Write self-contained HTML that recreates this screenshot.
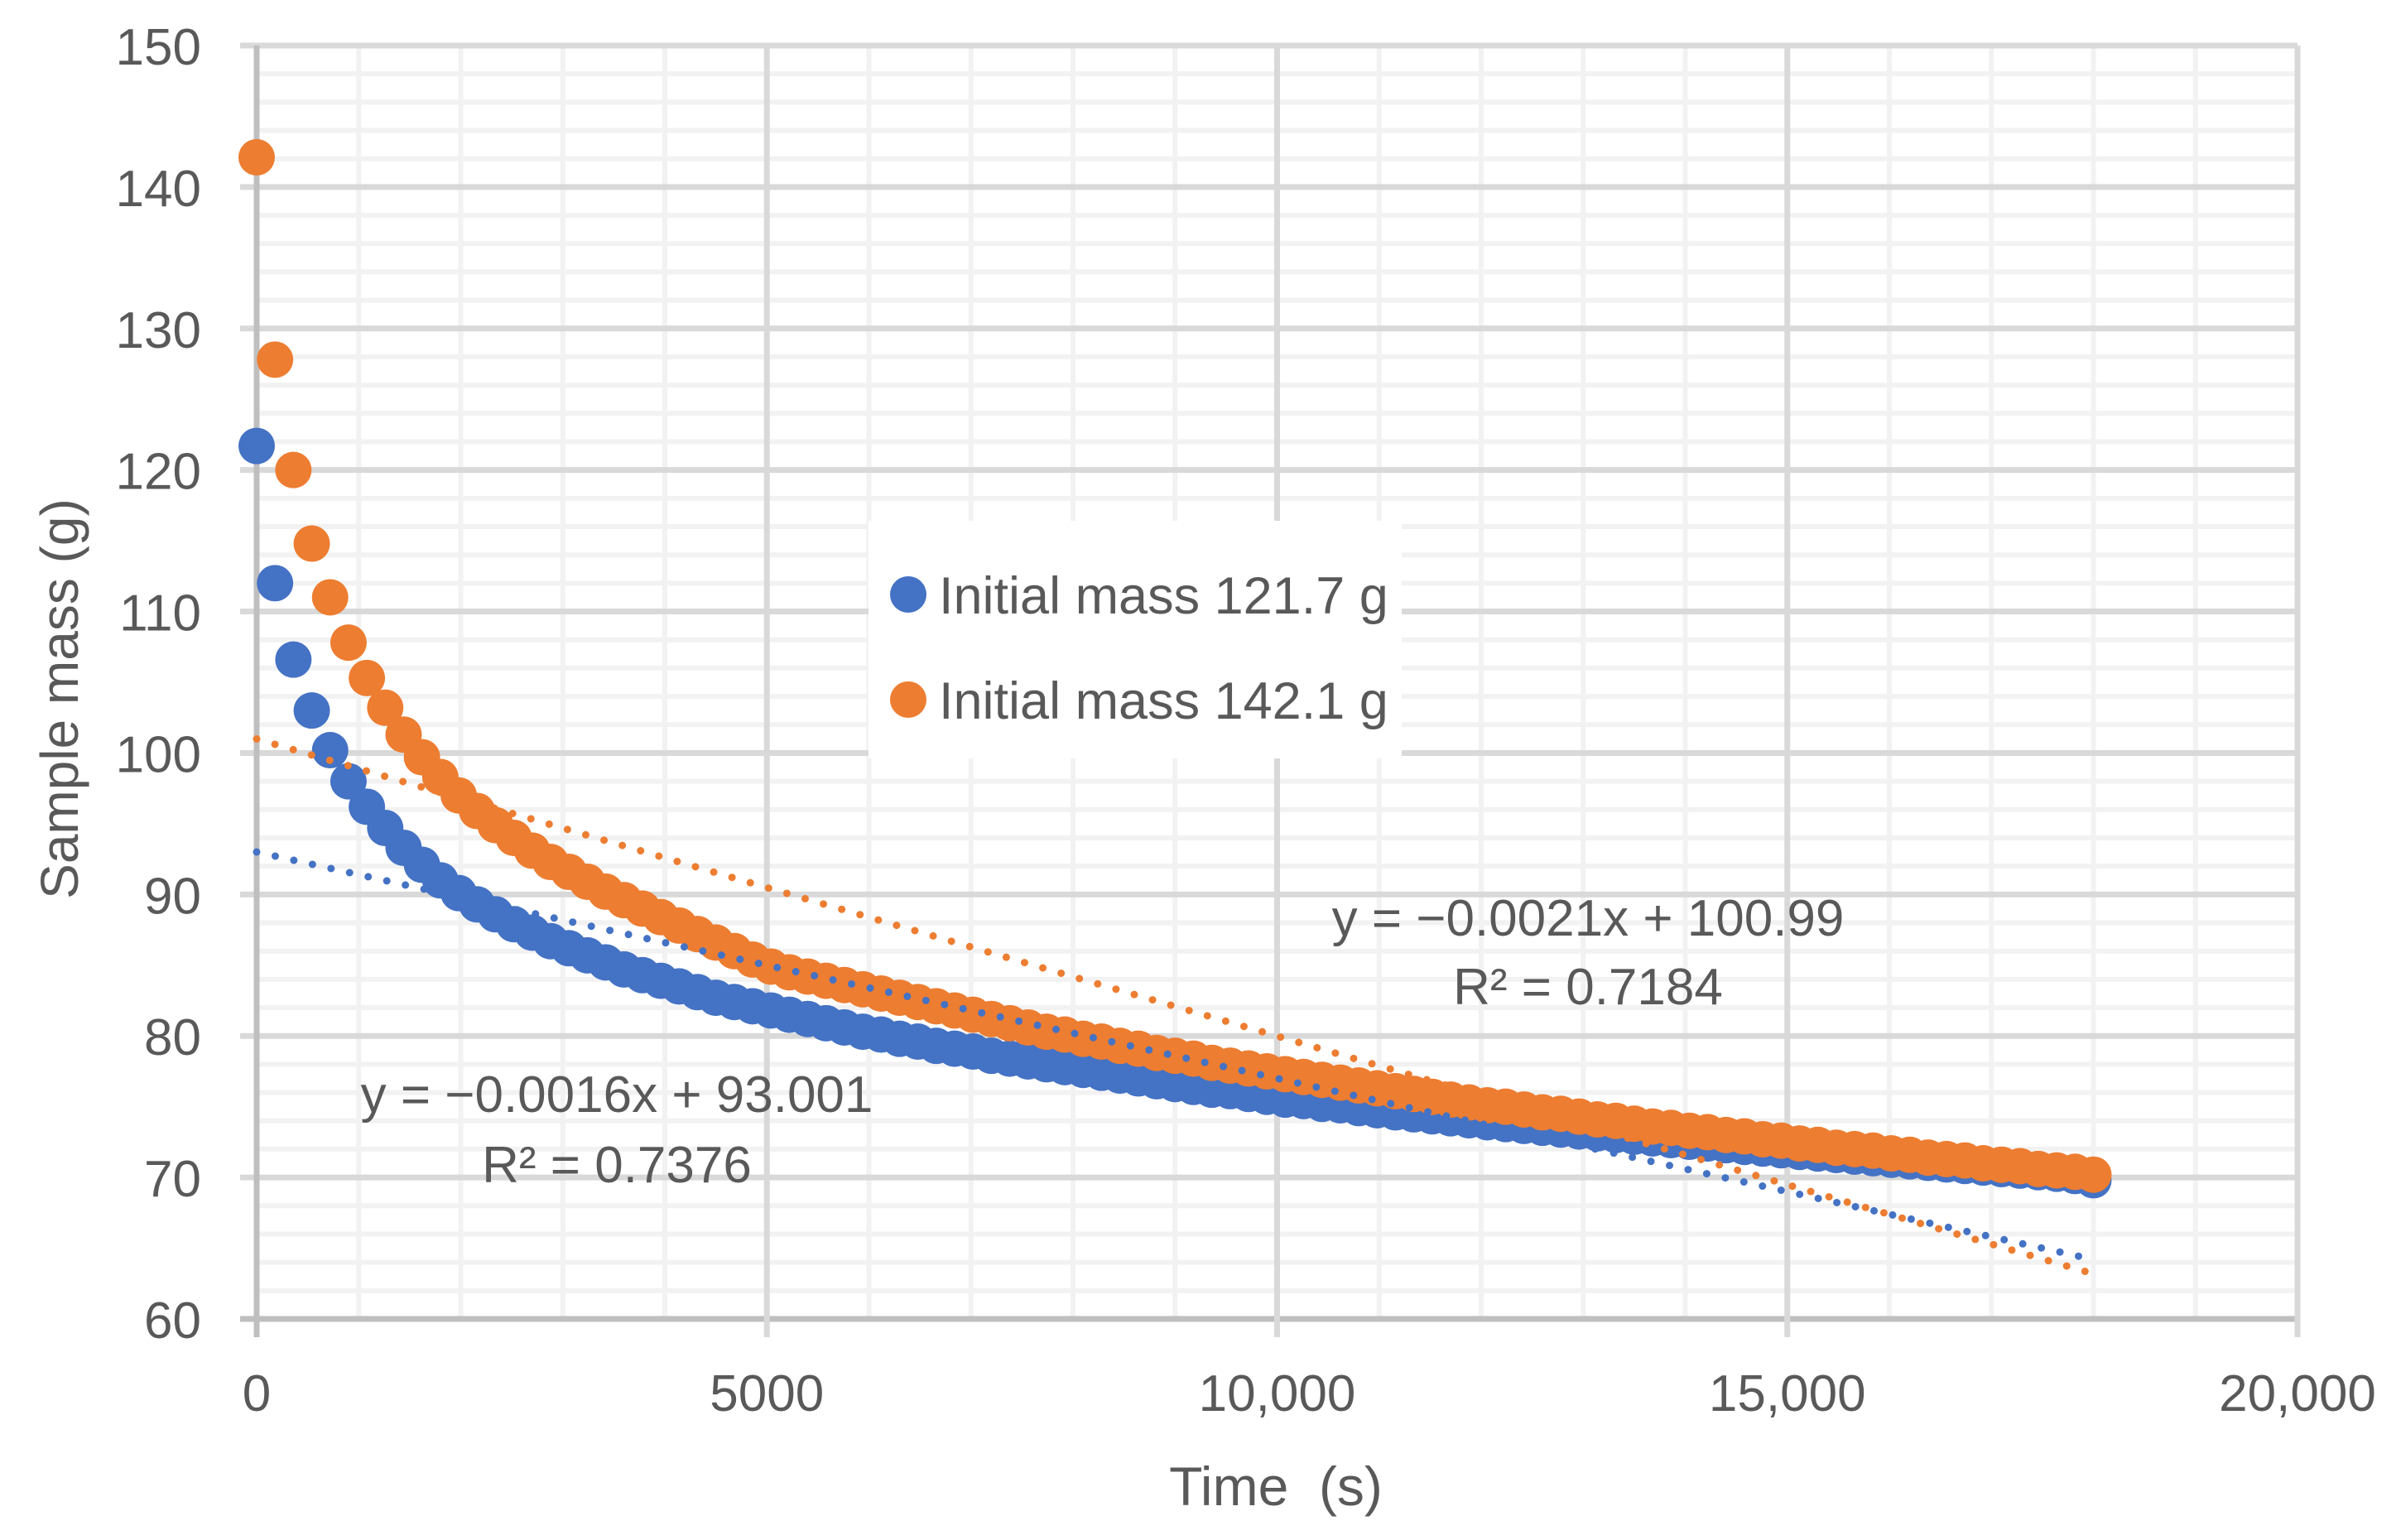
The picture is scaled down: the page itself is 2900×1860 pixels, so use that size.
<!DOCTYPE html>
<html><head><meta charset="utf-8">
<style>
html,body{margin:0;padding:0;background:#fff;}
svg{display:block;font-family:"Liberation Sans",sans-serif;}
</style></head>
<body>
<svg id="chart" width="2900" height="1860" viewBox="0 0 2900 1860" xmlns="http://www.w3.org/2000/svg">
<rect width="2900" height="1860" fill="#fff"/>
<g id="grid"></g>
<g id="ticks"></g>
<g id="marks"></g>
<g id="trends"></g>
<text x="0" y="0" transform="translate(94,844) rotate(-90)" text-anchor="middle" font-size="64" fill="#595959">Sample mass (g)</text>
<text x="1541" y="1818" text-anchor="middle" font-size="66" fill="#595959" xml:space="preserve">Time  (s)</text>
<g>
<rect x="1049" y="629" width="644" height="287" fill="#fff"/>
<circle cx="1097" cy="718" r="22" fill="#4472C4"/>
<text x="1134" y="741" font-size="63" fill="#595959">Initial mass 121.7 g</text>
<circle cx="1097" cy="845" r="22" fill="#ED7D31"/>
<text x="1134" y="868" font-size="63" fill="#595959">Initial mass 142.1 g</text>
</g>
<text x="745" y="1343" text-anchor="middle" font-size="62" fill="#595959">y = −0.0016x + 93.001</text>
<text x="745" y="1428" text-anchor="middle" font-size="62" fill="#595959">R² = 0.7376</text>
<text x="1918" y="1130" text-anchor="middle" font-size="62" fill="#595959">y = −0.0021x + 100.99</text>
<text x="1918" y="1213" text-anchor="middle" font-size="62" fill="#595959">R² = 0.7184</text>
</svg>
<script>
const xTicks = [0, 5000, 10000, 15000, 20000];
const xTickLabels = ["0", "5000", "10,000", "15,000", "20,000"];
const yTicks = [60, 70, 80, 90, 100, 110, 120, 130, 140, 150];
const timeStep = 180;
const blueMass = [121.7,112.0,106.6,103.0,100.2,98.0,96.2,94.7,93.3,92.1,91.0,90.1,89.3,88.6,87.9,87.3,86.7,86.2,85.7,85.2,84.7,84.3,83.9,83.5,83.1,82.7,82.4,82.1,81.8,81.5,81.2,80.9,80.6,80.3,80.1,79.8,79.6,79.3,79.1,78.9,78.6,78.4,78.2,78.0,77.8,77.6,77.4,77.2,77.0,76.8,76.6,76.4,76.2,76.1,75.9,75.7,75.5,75.4,75.2,75.1,74.9,74.75,74.6,74.46,74.32,74.18,74.04,73.9,73.77,73.64,73.51,73.38,73.25,73.12,73.0,72.88,72.76,72.64,72.52,72.4,72.28,72.16,72.04,71.92,71.8,71.69,71.58,71.47,71.36,71.25,71.14,71.03,70.92,70.81,70.7,70.59,70.48,70.37,70.26,70.1,69.8];
const orangeMass = [142.1,127.8,120.0,114.8,111.0,107.8,105.3,103.2,101.3,99.7,98.3,97.0,95.9,94.9,94.0,93.1,92.3,91.6,90.9,90.2,89.6,89.0,88.4,87.8,87.2,86.6,86.0,85.4,84.9,84.5,84.2,83.9,83.6,83.3,83.0,82.7,82.4,82.1,81.8,81.5,81.2,80.9,80.6,80.3,80.1,79.8,79.6,79.3,79.1,78.8,78.6,78.4,78.1,77.9,77.7,77.5,77.3,77.1,76.9,76.7,76.5,76.3,76.1,75.9,75.7,75.5,75.3,75.1,75.0,74.8,74.6,74.5,74.3,74.1,74.0,73.8,73.6,73.5,73.3,73.2,73.0,72.9,72.7,72.6,72.4,72.3,72.1,72.0,71.9,71.7,71.6,71.4,71.3,71.2,71.0,70.9,70.8,70.6,70.5,70.4,70.2];
const trendSlopes = [-0.0016, -0.0021];
const trendIntercepts = [93.001, 100.99];
const trendRange = [0, 18000];

const NS = "http://www.w3.org/2000/svg";
const X0 = 310, X1 = 2775, Y0 = 1593, Y1 = 55;
function xs(v){ return X0 + (v - 0) / 20000 * (X1 - X0); }
function ys(v){ return Y0 - (v - 60) / 90 * (Y0 - Y1); }
function mk(tag, attrs, parent){ const e = document.createElementNS(NS, tag); for (const k in attrs) e.setAttribute(k, attrs[k]); parent.appendChild(e); return e; }

const grid = document.getElementById('grid');
for (let v = 62; v < 150; v += 2) {
  if (v % 10 === 0) continue;
  const l = mk('line', {x1: X0, x2: X1, y1: ys(v), y2: ys(v), stroke: '#f2f2f2', 'stroke-width': 6}, grid);
  
  
}
for (let v = 1000; v < 20000; v += 1000) {
  if (v % 5000 === 0) continue;
  const l = mk('line', {x1: xs(v), x2: xs(v), y1: Y1, y2: Y0, stroke: '#f2f2f2', 'stroke-width': 6}, grid);
  
  
}
yTicks.forEach(v => {
  const l = mk('line', {x1: X0 - 20, x2: X1, y1: ys(v), y2: ys(v), stroke: v === 60 ? '#bfbfbf' : '#d9d9d9', 'stroke-width': 7}, grid);
  
  
});
xTicks.forEach(v => {
  const l = mk('line', {x1: xs(v), x2: xs(v), y1: Y1, y2: Y0 + 22, stroke: v === 0 ? '#bfbfbf' : '#d9d9d9', 'stroke-width': 7}, grid);
  
  
});

const ticks = document.getElementById('ticks');
yTicks.forEach(v => {
  const t = mk('text', {x: 243, y: ys(v) + 23, 'text-anchor': 'end', 'font-size': 62, fill: '#595959'}, ticks);
  t.textContent = String(v);
  
  
});
xTicks.forEach((v, i) => {
  const t = mk('text', {x: xs(v), y: 1704, 'text-anchor': 'middle', 'font-size': 62, fill: '#595959'}, ticks);
  t.textContent = xTickLabels[i];
  
  
});

const marks = document.getElementById('marks');
blueMass.forEach((m, i) => {
  const c = mk('circle', {cx: xs(i * timeStep), cy: ys(m), r: 22, fill: '#4472C4'}, marks);
  
  
});
orangeMass.forEach((m, i) => {
  const c = mk('circle', {cx: xs(i * timeStep), cy: ys(m), r: 22, fill: '#ED7D31'}, marks);
  
  
});

const trends = document.getElementById('trends');
const trendColors = ['#4472C4', '#ED7D31'];
trendSlopes.forEach((s, i) => {
  const l = mk('line', {x1: xs(trendRange[0]), y1: ys(trendIntercepts[i] + s * trendRange[0]), x2: xs(trendRange[1]), y2: ys(trendIntercepts[i] + s * trendRange[1]), stroke: trendColors[i], 'stroke-width': 9, 'stroke-linecap': 'round', 'stroke-dasharray': '0 23'}, trends);
  
  
});
</script>
</body></html>
